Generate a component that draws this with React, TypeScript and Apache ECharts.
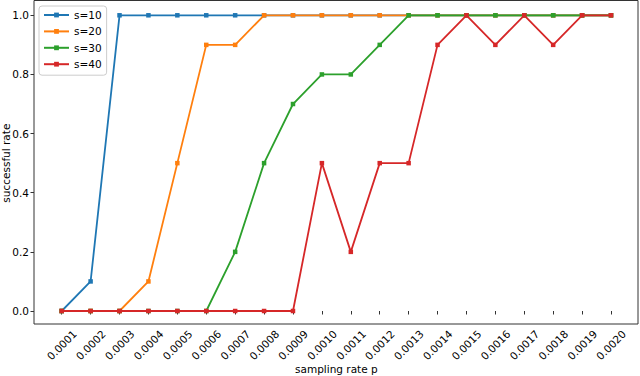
import React, { useEffect, useRef } from "react";
import * as echarts from "echarts";

const categories = [
  "0.0001", "0.0002", "0.0003", "0.0004", "0.0005", "0.0006", "0.0007", "0.0008", "0.0009", "0.0010",
  "0.0011", "0.0012", "0.0013", "0.0014", "0.0015", "0.0016", "0.0017", "0.0018", "0.0019", "0.0020",
];
const s10 = [0, 0.1, 1, 1, 1, 1, 1, 1, 1, 1, 1, 1, 1, 1, 1, 1, 1, 1, 1, 1];
const s20 = [0, 0, 0, 0.1, 0.5, 0.9, 0.9, 1, 1, 1, 1, 1, 1, 1, 1, 1, 1, 1, 1, 1];
const s30 = [0, 0, 0, 0, 0, 0, 0.2, 0.5, 0.7, 0.8, 0.8, 0.9, 1, 1, 1, 1, 1, 1, 1, 1];
const s40 = [0, 0, 0, 0, 0, 0, 0, 0, 0, 0.5, 0.2, 0.5, 0.5, 0.9, 1, 0.9, 1, 0.9, 1, 1];
const seriesNames = ["s=10", "s=20", "s=30", "s=40"];
const colors = ["#1f77b4", "#ff7f0e", "#2ca02c", "#d62728"];
const yTicks = [0, 0.2, 0.4, 0.6, 0.8, 1.0];

const FONT = "DejaVu Sans";
const FS = 10.5;

export default function App() {
  const ref = useRef<HTMLDivElement>(null);
  useEffect(() => {
    if (!ref.current) return;
    const chart = echarts.init(ref.current, null, { renderer: "svg" });
    const all = [s10, s20, s30, s40];
    chart.setOption({
      animation: false,
      backgroundColor: "#fff",
      textStyle: { fontFamily: FONT },
      grid: { left: 61.7, right: 29, top: 15.3, bottom: 65, containLabel: false, outerBoundsMode: "none" },
      graphic: [
        {
          type: "rect",
          silent: true,
          z: 0,
          shape: { x: 34, y: 0.5, width: 604, height: 323.5 },
          style: { fill: "none", stroke: "#333", lineWidth: 1 },
        },
      ],
      legend: {
        orient: "vertical",
        left: 39,
        top: 6,
        padding: [3, 5, 5, 4],
        itemGap: 4.4,
        itemWidth: 25,
        itemHeight: 6,
        backgroundColor: "#fff",
        borderColor: "#ccc",
        borderWidth: 1,
        borderRadius: 3,
        textStyle: { fontFamily: FONT, fontSize: FS, color: "#000", lineHeight: 12 },
        data: seriesNames,
      },
      xAxis: {
        type: "category",
        data: categories,
        boundaryGap: false,
        offset: 13,
        name: "sampling rate p",
        nameLocation: "middle",
        nameGap: 39,
        nameMoveOverlap: false,
        nameTextStyle: { fontFamily: FONT, fontSize: FS, color: "#000" },
        axisLine: { show: false },
        axisTick: { show: true, length: 3.5, lineStyle: { color: "#333" } },
        splitLine: { show: false },
        axisLabel: {
          interval: 0,
          rotate: 45,
          align: "center",
          verticalAlign: "middle",
          margin: 21,
          fontFamily: FONT,
          fontSize: FS,
          color: "#000",
        },
      },
      yAxis: {
        type: "value",
        min: 0,
        max: 1,
        interval: 0.2,
        offset: 27.7,
        name: "successful rate",
        nameLocation: "middle",
        nameGap: 23,
        nameMoveOverlap: false,
        nameTextStyle: { fontFamily: FONT, fontSize: FS, color: "#000" },
        axisLine: { show: false },
        axisTick: { show: true, length: 3.5, lineStyle: { color: "#333" } },
        splitLine: { show: false },
        axisLabel: {
          margin: 5,
          fontFamily: FONT,
          fontSize: FS,
          color: "#000",
          formatter: (v: number) => (yTicks.some((t) => Math.abs(t - v) < 1e-9) ? v.toFixed(1) : ""),
        },
      },
      series: seriesNames.map((name, i) => ({
        name,
        type: "line",
        data: all[i],
        clip: false,
        symbol: "rect",
        symbolSize: 4.5,
        showAllSymbol: true,
        color: colors[i],
        lineStyle: { width: 1.8, color: colors[i] },
        itemStyle: { color: colors[i] },
        z: 2 + i,
      })),
    });
    return () => chart.dispose();
  }, []);
  return (
    <div
      ref={ref}
      style={{ position: "fixed", left: 0, top: 0, width: 640, height: 376, background: "#fff" }}
    />
  );
}
